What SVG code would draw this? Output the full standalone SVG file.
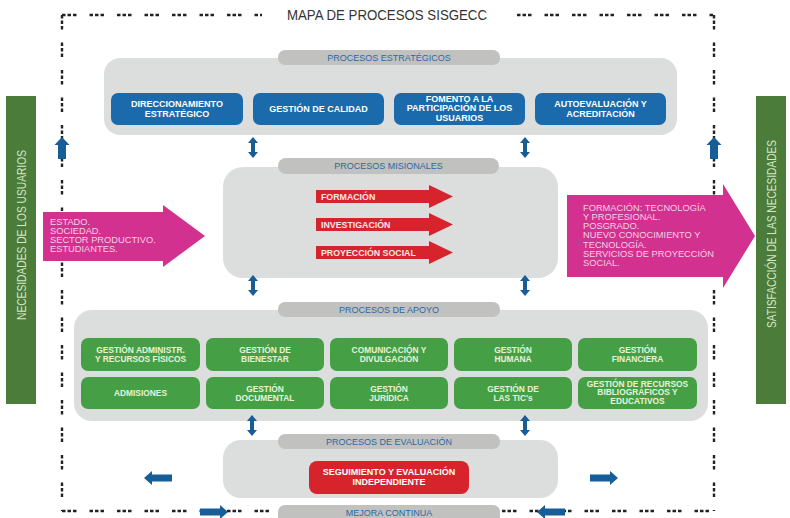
<svg xmlns="http://www.w3.org/2000/svg" width="790" height="518" viewBox="0 0 790 518">
<style>
text{font-family:"Liberation Sans",Arial,sans-serif}
.frame{fill:none;stroke:#222;stroke-width:2.4;stroke-dasharray:3.5 2 3.5 2 3.5 13}
.cont{fill:#dcdddd}
.tab{fill:#c1c1bf}
.tabt{font-size:9px;fill:#2a68a6;text-anchor:middle}
.blue{fill:#1b6aab}
.bt{font-size:9px;font-weight:bold;fill:#fff;text-anchor:middle}
.green{fill:#45a045}
.gt{font-size:8.4px;font-weight:bold;fill:#e6f3da;text-anchor:middle}
.red{fill:#d7232b}
.rt{font-size:8.8px;font-weight:bold;fill:#fde8e8}
.mag{fill:#d2318f}
.mt{font-size:9.3px;fill:#f7d0e6}
.bar{fill:#4b7c39}
.bart{font-size:13.5px;fill:#d4e6c6;text-anchor:middle}
.arr{fill:#175d98}
</style>
<defs>
<path id="dbl" d="M0,-10.5 L5,-4.5 L2,-4.5 L2,4.5 L5,4.5 L0,10.5 L-5,4.5 L-2,4.5 L-2,-4.5 L-5,-4.5 Z"/>
<path id="up" d="M0,-11 L7.5,-3 L4,-3 L4,11 L-4,11 L-4,-3 L-7.5,-3 Z"/>
<path id="right" d="M14,0 L6,-7 L6,-3.5 L-14,-3.5 L-14,3.5 L6,3.5 L6,7 Z"/>
</defs>

<g id="frame">
<path class="frame" d="M62,15 L262,15"/>
<path class="frame" d="M517,15 L714,15"/>
<path class="frame" d="M62,15 L62,511"/>
<path class="frame" d="M714,15 L714,511"/>
<path class="frame" d="M62,511 L714,511"/>
<text x="387" y="20" font-size="14" fill="#333" text-anchor="middle" textLength="200" lengthAdjust="spacingAndGlyphs">MAPA DE PROCESOS SISGECC</text>
</g>

<g id="necesidades">
<rect class="bar" x="6" y="96" width="30" height="308"/>
<text class="bart" transform="translate(26,235) rotate(-90)" textLength="170" lengthAdjust="spacingAndGlyphs">NECESIDADES DE LOS USUARIOS</text>
</g>
<g id="satisfaccion">
<rect class="bar" x="756" y="96" width="30" height="308"/>
<text class="bart" transform="translate(776,234) rotate(-90)" textLength="188" lengthAdjust="spacingAndGlyphs">SATISFACCIÓN DE LAS NECESIDADES</text>
</g>

<g id="estrategicos">
<rect class="cont" x="104" y="58" width="573" height="77" rx="16"/>
<rect class="tab" x="278" y="50" width="222" height="15" rx="7"/>
<text class="tabt" x="389" y="60.8">PROCESOS ESTRATÉGICOS</text>
<g id="direccionamiento"><rect class="blue" x="111" y="93" width="132" height="32" rx="7"/>
<text class="bt"><tspan x="177" y="107">DIRECCIONAMIENTO</tspan><tspan x="177" y="116.5">ESTRATÉGICO</tspan></text></g>
<g id="calidad"><rect class="blue" x="253" y="93" width="131" height="32" rx="7"/>
<text class="bt" x="318.5" y="112">GESTIÓN DE CALIDAD</text></g>
<g id="fomento"><rect class="blue" x="394" y="93" width="131" height="32" rx="7"/>
<text class="bt"><tspan x="459.5" y="102">FOMENTO A LA</tspan><tspan x="459.5" y="111.3">PARTICIPACIÓN DE LOS</tspan><tspan x="459.5" y="120.6">USUARIOS</tspan></text></g>
<g id="autoevaluacion"><rect class="blue" x="535" y="93" width="131" height="32" rx="7"/>
<text class="bt"><tspan x="600.5" y="107">AUTOEVALUACIÓN Y</tspan><tspan x="600.5" y="116.5">ACREDITACIÓN</tspan></text></g>
</g>

<g id="misionales">
<rect class="cont" x="223" y="167" width="335" height="111" rx="20"/>
<rect class="tab" x="278" y="158" width="221" height="16" rx="8"/>
<text class="tabt" x="388.5" y="169.3">PROCESOS MISIONALES</text>
<g id="formacion"><path class="red" d="M316,190 L429,190 L429,185 L453,196.5 L429,208 L429,203 L316,203 Z"/>
<text class="rt" x="321" y="199.6">FORMACIÓN</text></g>
<g id="investigacion"><path class="red" d="M316,218 L429,218 L429,213 L453,224.5 L429,236 L429,231 L316,231 Z"/>
<text class="rt" x="321" y="227.6">INVESTIGACIÓN</text></g>
<g id="proyeccion"><path class="red" d="M316,246 L429,246 L429,241 L453,252.5 L429,264 L429,259 L316,259 Z"/>
<text class="rt" x="321" y="255.6">PROYECCIÓN SOCIAL</text></g>
</g>

<g id="entradas">
<path class="mag" d="M43,212 L163,212 L163,205 L205,236 L163,267 L163,261 L43,261 Z"/>
<text class="mt"><tspan x="50" y="225">ESTADO.</tspan><tspan x="50" y="234">SOCIEDAD.</tspan><tspan x="50" y="243">SECTOR PRODUCTIVO.</tspan><tspan x="50" y="252">ESTUDIANTES.</tspan></text>
</g>

<g id="salidas">
<path class="mag" d="M567,195 L723,195 L723,184 L755,236 L723,288 L723,277 L567,277 Z"/>
<text class="mt"><tspan x="583" y="210.5">FORMACIÓN: TECNOLOGÍA</tspan><tspan x="583" y="219.8">Y PROFESIONAL.</tspan><tspan x="583" y="229.1">POSGRADO.</tspan><tspan x="583" y="238.4">NUEVO CONOCIMIENTO Y</tspan><tspan x="583" y="247.7">TECNOLOGÍA.</tspan><tspan x="583" y="257">SERVICIOS DE PROYECCIÓN</tspan><tspan x="583" y="266.3">SOCIAL.</tspan></text>
</g>

<g id="apoyo">
<rect class="cont" x="74" y="310" width="634" height="111" rx="18"/>
<rect class="tab" x="278" y="302" width="222" height="15" rx="7"/>
<text class="tabt" x="389" y="312.8">PROCESOS DE APOYO</text>
<g id="g1"><rect class="green" x="81" y="338" width="119" height="33" rx="7"/><text class="gt"><tspan x="140.5" y="353">GESTIÓN ADMINISTR.</tspan><tspan x="140.5" y="362">Y RECURSOS FÍSICOS</tspan></text></g>
<g id="g2"><rect class="green" x="206" y="338" width="118" height="33" rx="7"/><text class="gt"><tspan x="265" y="353">GESTIÓN DE</tspan><tspan x="265" y="362">BIENESTAR</tspan></text></g>
<g id="g3"><rect class="green" x="330" y="338" width="118" height="33" rx="7"/><text class="gt"><tspan x="389" y="353">COMUNICACIÓN Y</tspan><tspan x="389" y="362">DIVULGACIÓN</tspan></text></g>
<g id="g4"><rect class="green" x="454" y="338" width="118" height="33" rx="7"/><text class="gt"><tspan x="513" y="353">GESTIÓN</tspan><tspan x="513" y="362">HUMANA</tspan></text></g>
<g id="g5"><rect class="green" x="578" y="338" width="119" height="33" rx="7"/><text class="gt"><tspan x="637.5" y="353">GESTIÓN</tspan><tspan x="637.5" y="362">FINANCIERA</tspan></text></g>
<g id="g6"><rect class="green" x="81" y="377" width="119" height="32" rx="7"/><text class="gt" x="140.5" y="396">ADMISIONES</text></g>
<g id="g7"><rect class="green" x="206" y="377" width="118" height="32" rx="7"/><text class="gt"><tspan x="265" y="391.5">GESTIÓN</tspan><tspan x="265" y="400.5">DOCUMENTAL</tspan></text></g>
<g id="g8"><rect class="green" x="330" y="377" width="118" height="32" rx="7"/><text class="gt"><tspan x="389" y="391.5">GESTIÓN</tspan><tspan x="389" y="400.5">JURÍDICA</tspan></text></g>
<g id="g9"><rect class="green" x="454" y="377" width="118" height="32" rx="7"/><text class="gt"><tspan x="513" y="391.5">GESTIÓN DE</tspan><tspan x="513" y="400.5">LAS TIC's</tspan></text></g>
<g id="g10"><rect class="green" x="578" y="377" width="119" height="32" rx="7"/><text class="gt"><tspan x="637.5" y="386.5">GESTIÓN DE RECURSOS</tspan><tspan x="637.5" y="395">BIBLIOGRÁFICOS Y</tspan><tspan x="637.5" y="403.5">EDUCATIVOS</tspan></text></g>
</g>

<g id="evaluacion">
<rect class="cont" x="223" y="440" width="335" height="58" rx="18"/>
<rect class="tab" x="278" y="434" width="222" height="15" rx="7"/>
<text class="tabt" x="389" y="444.8">PROCESOS DE EVALUACIÓN</text>
<g id="seguimiento"><rect class="red" x="309" y="461" width="160" height="33" rx="8"/>
<text class="bt"><tspan x="389" y="475">SEGUIMIENTO Y EVALUACIÓN</tspan><tspan x="389" y="485">INDEPENDIENTE</tspan></text></g>
</g>

<g id="mejora">
<rect class="tab" x="278" y="505" width="222" height="20" rx="7"/>
<text class="tabt" x="389" y="516">MEJORA CONTINUA</text>
</g>

<g id="connectors">
<use href="#dbl" class="arr" x="253" y="147.5"/>
<use href="#dbl" class="arr" x="525" y="147.5"/>
<use href="#dbl" class="arr" x="253" y="285.5"/>
<use href="#dbl" class="arr" x="525" y="285.5"/>
<use href="#dbl" class="arr" x="252" y="425.5"/>
<use href="#dbl" class="arr" x="525" y="425.5"/>
<use href="#up" class="arr" x="62" y="148"/>
<use href="#up" class="arr" x="714" y="148"/>
<use href="#right" class="arr" transform="translate(158,478) scale(-1,1)"/>
<use href="#right" class="arr" x="604" y="478"/>
<use href="#right" class="arr" x="214" y="512"/>
<use href="#right" class="arr" transform="translate(551,512) scale(-1,1)"/>
</g>
</svg>
